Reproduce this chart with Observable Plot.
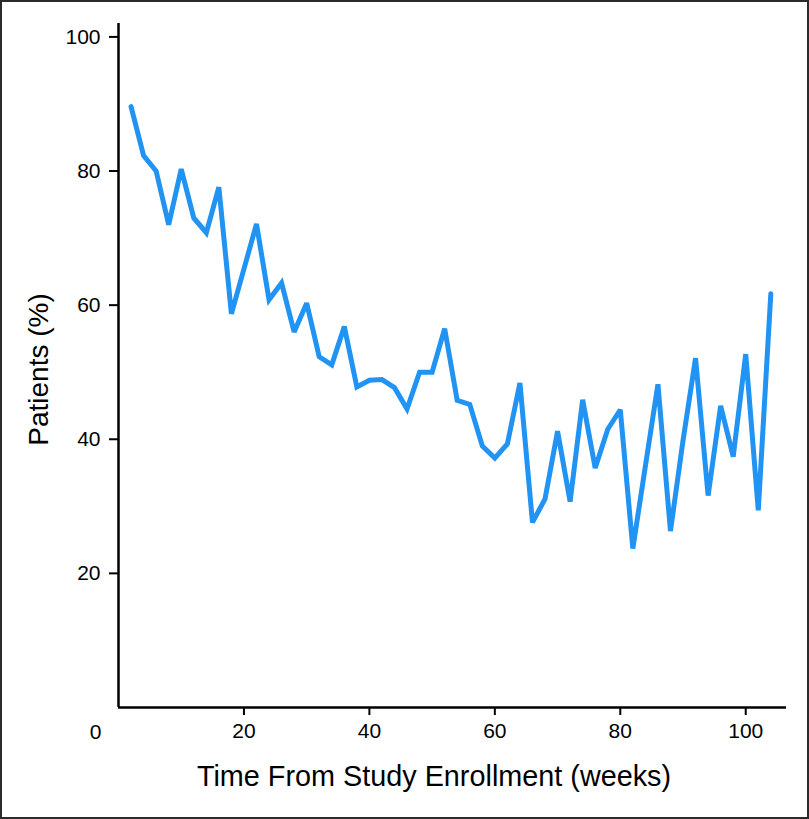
<!DOCTYPE html>
<html>
<head>
<meta charset="utf-8">
<script src="https://cdn.jsdelivr.net/npm/d3@7"></script>
<script src="https://cdn.jsdelivr.net/npm/@observablehq/plot@0.6"></script>
<style>
  html, body { margin: 0; padding: 0; background: #fff; }
  #wrap { position: relative; width: 809px; height: 819px; }
  #border { position: absolute; left: 0; top: 0; width: 809px; height: 819px; box-sizing: border-box; border: 2px solid #2b2b2b; pointer-events: none; }
  svg { display: block; }
</style>
</head>
<body>
<div id="wrap"><div id="border"></div></div>
<script>
const weeks = [2,4,6,8,10,12,14,16,18,20,22,24,26,28,30,32,34,36,38,40,42,44,46,48,50,52,54,56,58,60,62,64,66,68,70,72,74,76,78,80,82,84,86,88,90,92,94,96,98,100,102,104];
const patientsPct = [89.6,82.3,80.0,72.0,80.3,73.0,70.8,77.6,58.7,65.4,72.1,60.8,63.3,56.0,60.3,52.3,51.1,56.8,47.8,48.8,48.9,47.7,44.5,50.0,50.0,56.5,45.8,45.2,39.0,37.2,39.3,48.4,27.6,31.1,41.2,30.7,45.9,35.7,41.5,44.4,23.7,36.0,48.2,26.3,39.8,52.1,31.6,45.0,37.4,52.7,29.4,61.7];
const xTicks = [20,40,60,80,100];
const yTicks = [20,40,60,80,100];
const xTitle = "Time From Study Enrollment (weeks)";
const yTitle = "Patients (%)";

const data = weeks.map((w, i) => ({week: w, pct: patientsPct[i]}));

const chart = Plot.plot({
  width: 809,
  height: 819,
  marginLeft: 118,
  marginRight: 23,
  marginTop: 23,
  marginBottom: 112,
  style: {fontFamily: "'Liberation Sans', Arial, sans-serif", fontSize: "21px", color: "#000", background: "transparent"},
  x: {domain: [0, 106.5]},
  y: {domain: [0, 102]},
  marks: [
    Plot.axisX({ticks: xTicks, tickSize: 8, tickPadding: 8, tickFormat: d => String(d), label: null, strokeWidth: 2, fontSize: 21, fill: "#000"}),
    Plot.axisY({ticks: yTicks, tickSize: 9, tickPadding: 9, tickFormat: d => String(d), label: null, strokeWidth: 2, fontSize: 21, fill: "#000"}),
    Plot.ruleX([0], {stroke: "#000", strokeWidth: 2.5}),
    Plot.ruleY([0], {stroke: "#000", strokeWidth: 2.5}),
    Plot.text(["0"], {frameAnchor: "bottom-left", textAnchor: "middle", lineAnchor: "middle", dx: -23, dy: 25, fontSize: 21, fill: "#000"}),
    Plot.text([xTitle], {frameAnchor: "bottom", dx: -18.5, dy: 78, fontSize: 28.8, fill: "#000"}),
    Plot.text([yTitle], {frameAnchor: "left", textAnchor: "middle", lineAnchor: "middle", rotate: -90, dx: -79, dy: 4, fontSize: 28, fill: "#000"}),
    Plot.line(data, {x: "week", y: "pct", stroke: "#2194f3", strokeWidth: 5, strokeLinejoin: "miter", strokeMiterlimit: 3})
  ]
});
document.getElementById("wrap").prepend(chart);
</script>
</body>
</html>
